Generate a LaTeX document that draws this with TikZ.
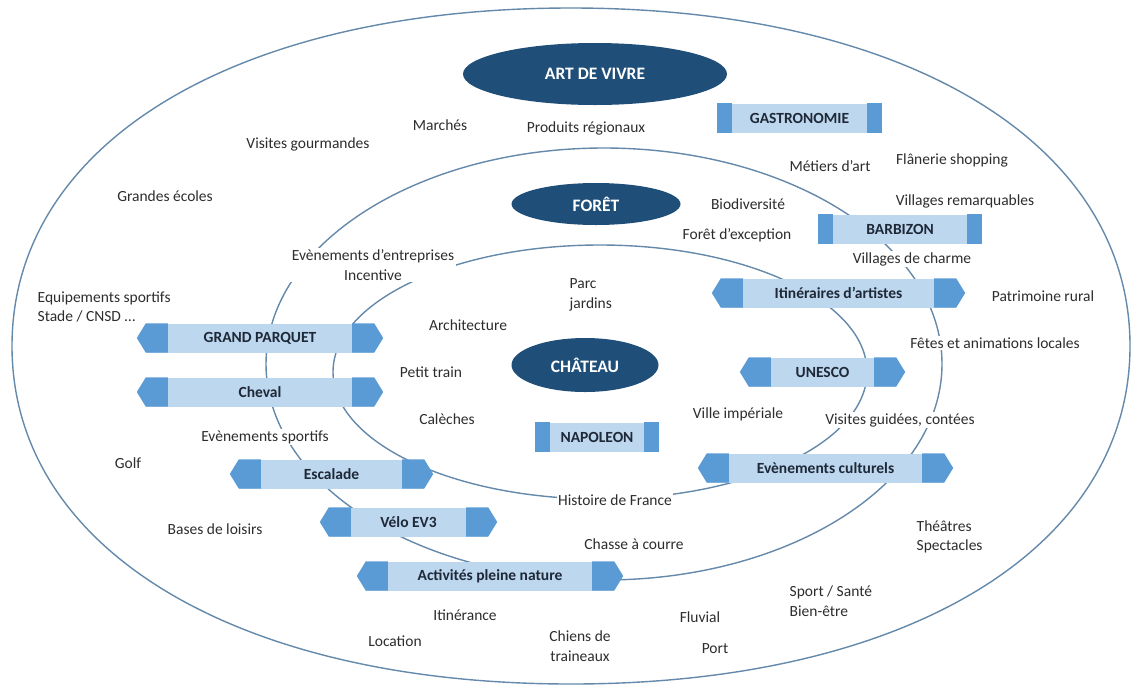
\documentclass[tikz,border=0pt]{standalone}
\usepackage{fontspec}
\setmainfont{Carlito}
\usetikzlibrary{shapes.geometric}
\definecolor{navy}{RGB}{31,78,121}
\definecolor{blight}{RGB}{189,215,238}
\definecolor{bdark}{RGB}{91,155,213}
\definecolor{ringc}{RGB}{100,137,170}
\definecolor{txt}{RGB}{45,45,45}
\definecolor{btxt}{RGB}{30,40,55}
\tikzset{
  ring/.style={draw=ringc, line width=1.4pt},
  lbl/.style={fill=white, inner sep=1.5pt, text=txt, font=\fontsize{15.5}{19.5}\selectfont},
  core/.style={ellipse, fill=navy, text=white, font=\bfseries\fontsize{17.5}{20}\selectfont, inner sep=0pt},
  bbody/.style={fill=blight, minimum height=29pt, inner sep=0pt, text=btxt, font=\bfseries\fontsize{15.5}{18}\selectfont},
  endpiece/.style={fill=bdark},
}
\newcommand\mybanner[5]{%
  \node[bbody, minimum width=#4pt] (#1) at (#2,#3) {#5};
  \fill[endpiece] (#1.north west) -- ([xshift=22pt]#1.north west) -- ([xshift=22pt]#1.south west) -- (#1.south west) -- ([xshift=-9pt]#1.west) -- cycle;
  \fill[endpiece] (#1.north east) -- ([xshift=-22pt]#1.north east) -- ([xshift=-22pt]#1.south east) -- (#1.south east) -- ([xshift=9pt]#1.east) -- cycle;
}
\newcommand\mytag[5]{%
  \node[bbody, minimum width=#4pt] (#1) at (#2,#3) {#5};
  \fill[endpiece] (#1.north west) rectangle ([xshift=15pt]#1.south west);
  \fill[endpiece] (#1.north east) rectangle ([xshift=-15pt]#1.south east);
}
\begin{document}
\begin{tikzpicture}[x=1pt,y=-1pt]
\useasboundingbox (0,0) rectangle (1131,686);
% rings
\draw[ring] (1130,346) .. controls (1130,548.8) and (906.4,684) .. (571,684)
  .. controls (235.6,684) and (12,548.8) .. (12,346)
  .. controls (12,143.2) and (235.6,8) .. (571,8)
  .. controls (906.4,8) and (1130,143.2) .. cycle;
\draw[ring] (604,364) ellipse [x radius=338pt, y radius=216pt];
\draw[ring] (600,372) ellipse [x radius=267pt, y radius=127pt];

% labels
\node[lbl] (marches) at (440,125) {Marchés};
\node[lbl] (produits) at (586,128) {Produits régionaux};
\node[lbl] (gourm) at (308,144) {Visites gourmandes};
\node[lbl] (metiers) at (830,166) {Métiers d’art};
\node[lbl] (flanerie) at (952,160) {Flânerie shopping};
\node[lbl] (ecoles) at (165,196) {Grandes écoles};
\node[lbl] (biodiv) at (748,204) {Biodiversité};
\node[lbl] (villrem) at (965,201) {Villages remarquables};
\node[lbl] (foretex) at (737,235) {Forêt d’exception};
\node[lbl, align=center] (entrep) at (373,265) {Evènements d’entreprises\\Incentive};
\node[lbl] (villchar) at (912,259) {Villages de charme};
\node[lbl, align=left, anchor=west] (parc) at (568,295) {Parc\\jardins};
\node[lbl, align=left, anchor=west] (equip) at (36,307) {Equipements sportifs\\Stade / CNSD …};
\node[lbl] (patri) at (1043,296) {Patrimoine rural};
\node[lbl] (archi) at (468,325) {Architecture};
\node[lbl] (fetes) at (995,343) {Fêtes et animations locales};
\node[lbl] (train) at (431,372) {Petit train};
\node[lbl] (caleches) at (447,419) {Calèches};
\node[lbl] (ville) at (738,414) {Ville impériale};
\node[lbl] (visguid) at (900,420) {Visites guidées, contées};
\node[lbl] (evsport) at (265,437) {Evènements sportifs};
\node[lbl] (golf) at (128,463) {Golf};
\node[lbl] (histoire) at (615,500) {Histoire de France};
\node[lbl] (bases) at (215,529) {Bases de loisirs};
\node[lbl, align=left, anchor=west] (theatre) at (915,537) {Théâtres\\Spectacles};
\node[lbl] (chasse) at (634,544) {Chasse à courre};
\node[lbl, align=left, anchor=west] (sport) at (788,601) {Sport / Santé\\Bien-être};
\node[lbl] (itin) at (465,615) {Itinérance};
\node[lbl] (fluvial) at (700,617) {Fluvial};
\node[lbl] (location) at (395,641) {Location};
\node[lbl, align=center] (chiens) at (580,646) {Chiens de\\traineaux};
\node[lbl] (port) at (715,649) {Port};

% cores
\node[core, minimum width=264pt, minimum height=62pt] (art) at (595,74) {ART DE VIVRE};
\node[core, minimum width=169pt, minimum height=42pt] (foret) at (596,204) {FORÊT};
\node[core, minimum width=147pt, minimum height=54pt] (chateau) at (585,365) {CHÂTEAU};

% tags
\mytag{gastro}{799.5}{118}{165}{GASTRONOMIE}
\mytag{barbizon}{900}{229}{164}{BARBIZON}
\mytag{napoleon}{597}{437}{124}{NAPOLEON}

% banners
\mybanner{parquet}{260}{338}{228}{GRAND PARQUET}
\mybanner{cheval}{260}{392}{228}{Cheval}
\mybanner{escalade}{331.5}{474}{185}{Escalade}
\mybanner{velo}{408.5}{522}{159}{Vélo EV3}
\mybanner{activites}{490}{576}{248}{Activités pleine nature}
\mybanner{itineraires}{838.5}{293}{235}{Itinéraires d’artistes}
\mybanner{unesco}{822.5}{372}{147}{UNESCO}
\mybanner{evcult}{825.5}{468}{237}{Evènements culturels}
\end{tikzpicture}
\end{document}
